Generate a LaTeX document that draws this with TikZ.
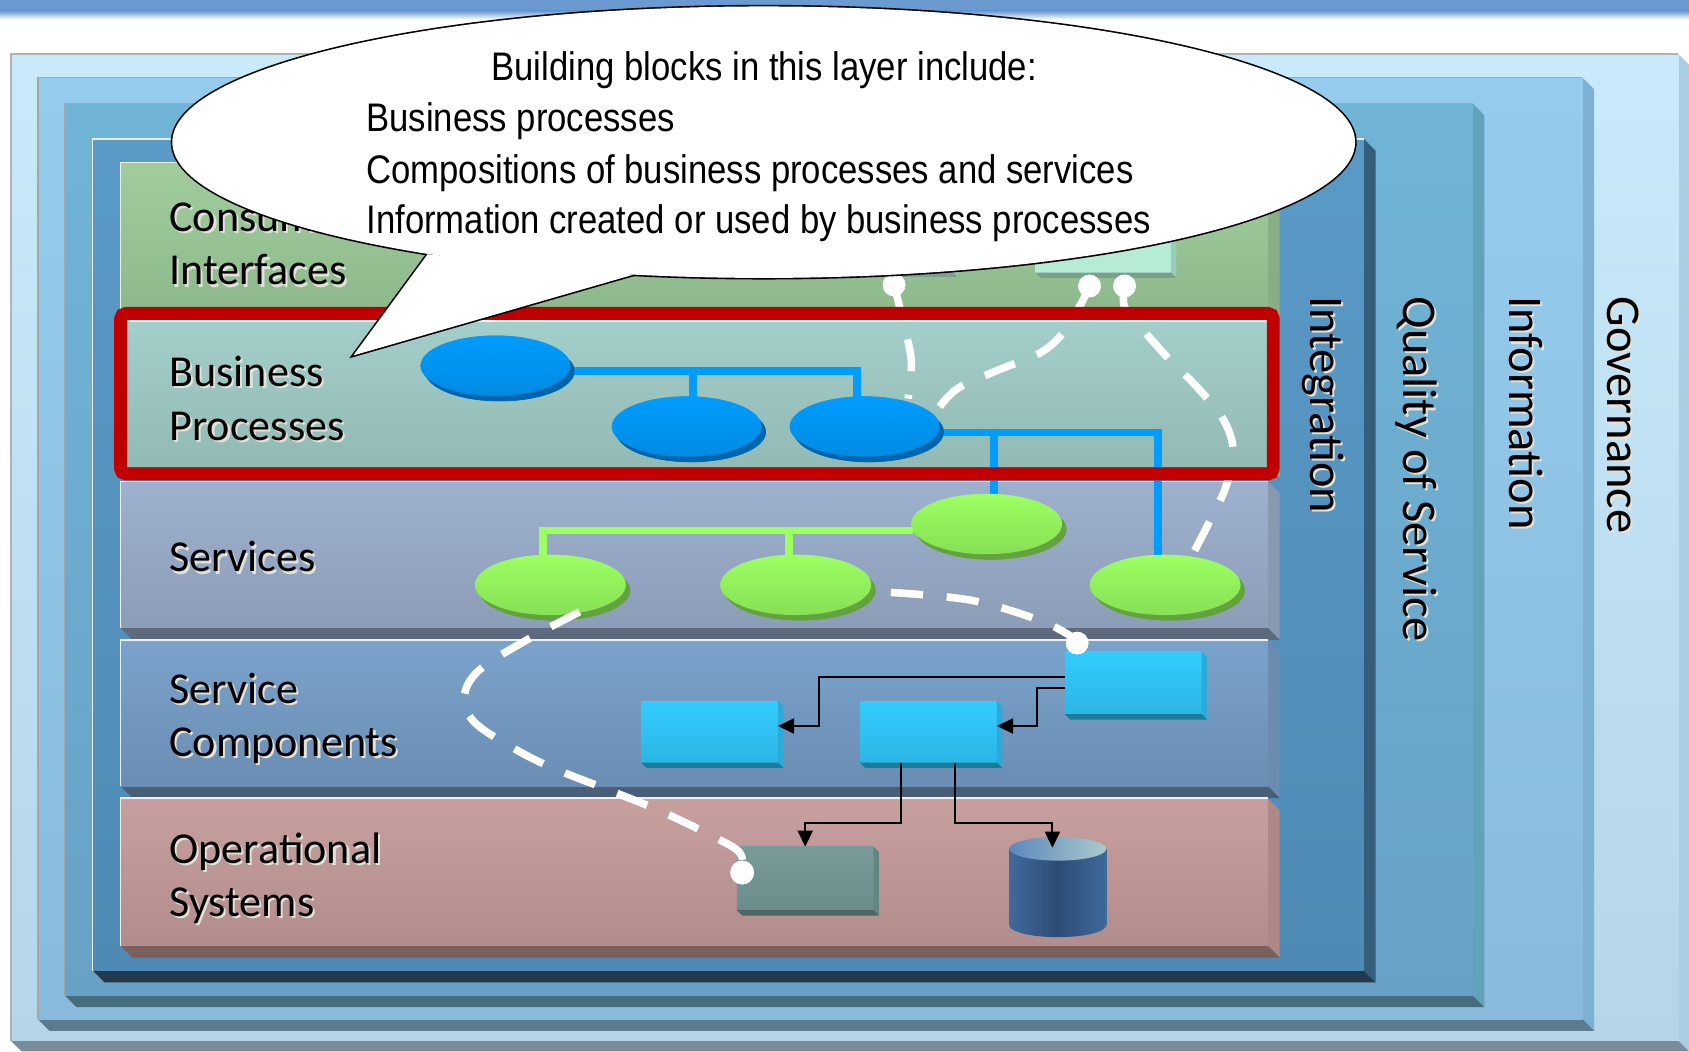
\documentclass[tikz,border=0pt]{standalone}
\usepackage{fontspec}
\setmainfont{Carlito}
\newfontfamily\narrowfont[FakeStretch=0.87]{Liberation Sans}
\usetikzlibrary{calc,shapes.geometric,arrows.meta,shadows}

\definecolor{barblue}{HTML}{6A9AD0}
\definecolor{govA}{HTML}{C8EAFB}\definecolor{govB}{HTML}{B5D5E8}\definecolor{govR}{HTML}{AACDE2}\definecolor{govS}{HTML}{7A8C99}
\definecolor{infA}{HTML}{95CCEE}\definecolor{infB}{HTML}{88BADB}\definecolor{infR}{HTML}{7EB0D3}\definecolor{infS}{HTML}{5B7B8F}
\definecolor{qosA}{HTML}{70B5D6}\definecolor{qosB}{HTML}{68A1C6}\definecolor{qosR}{HTML}{62A3B9}\definecolor{qosS}{HTML}{446E7E}
\definecolor{intA}{HTML}{5A9AC7}\definecolor{intB}{HTML}{4E8AB4}\definecolor{intR}{HTML}{345E7A}\definecolor{intS}{HTML}{233A4E}
\definecolor{ciA}{HTML}{A1CD9E}\definecolor{ciB}{HTML}{8EB98C}\definecolor{ciR}{HTML}{88AE86}\definecolor{ciS}{HTML}{6A8A68}
\definecolor{bpA}{HTML}{A3CECA}\definecolor{bpB}{HTML}{93BAB4}\definecolor{bpR}{HTML}{89ACA8}\definecolor{bpS}{HTML}{607E7A}
\definecolor{svA}{HTML}{9DB1CE}\definecolor{svB}{HTML}{8C9DB7}\definecolor{svR}{HTML}{8898B0}\definecolor{svS}{HTML}{5D6A7D}
\definecolor{scA}{HTML}{7AA3CB}\definecolor{scB}{HTML}{6B8DB3}\definecolor{scR}{HTML}{6B8CB0}\definecolor{scS}{HTML}{4A5E77}
\definecolor{osA}{HTML}{C7A09E}\definecolor{osB}{HTML}{B28D8D}\definecolor{osR}{HTML}{AE8787}\definecolor{osS}{HTML}{7A5F5E}
\definecolor{redframe}{HTML}{C00000}
\definecolor{beA}{HTML}{009CFF}\definecolor{beB}{HTML}{008BE2}\definecolor{beD}{HTML}{0065AA}
\definecolor{geA}{HTML}{9CFF62}\definecolor{geB}{HTML}{88E055}\definecolor{geD}{HTML}{62A23F}
\definecolor{cyA}{HTML}{33CCFF}\definecolor{cyB}{HTML}{2BB6E4}\definecolor{cyR}{HTML}{29AAD8}\definecolor{cyS}{HTML}{1D7A9A}
\definecolor{obA}{HTML}{799C9A}\definecolor{obB}{HTML}{6A8C8A}\definecolor{obR}{HTML}{648683}\definecolor{obS}{HTML}{4D6664}
\definecolor{cylE}{HTML}{3F6A9C}\definecolor{cylM}{HTML}{2D4C74}\definecolor{cylT}{HTML}{5C88BE}\definecolor{cylU}{HTML}{AACACB}
\definecolor{mintA}{HTML}{B6ECD6}\definecolor{mintB}{HTML}{A9DEC8}\definecolor{mintR}{HTML}{98CDB6}\definecolor{mintS}{HTML}{7CA08E}
\definecolor{lblshadow}{HTML}{E2E2DA}

\newcommand\myslab[9]{%
  \fill[#8] (#3,#2) -- ({#3+#5},{#2+#5}) -- ({#3+#5},{#4+#5}) -- (#3,#4) -- cycle;
  \fill[#9] (#1,#4) -- (#3,#4) -- ({#3+#5},{#4+#5}) -- ({#1+#5},{#4+#5}) -- cycle;
  \shade[top color=#6,bottom color=#7] (#1,#2) rectangle (#3,#4);
}
\newcommand\myextrude[4]{%
  \fill[#3] (#1.north east) -- ++(#2,#2) -- ($(#1.south east)+(#2,#2)$) -- (#1.south east) -- cycle;
  \fill[#4] (#1.south west) -- (#1.south east) -- ++(#2,#2) -- ($(#1.south west)+(#2,#2)$) -- cycle;
}
\newcommand\shlabel[4]{%
  \node[lbl, text=lblshadow] (#4s) at ({#1+2},{#2+2}) {#3};
  \node[lbl] (#4) at (#1,#2) {#3};
}
\newcommand\vlabel[4]{%
  \node[vlbl, text=lblshadow] (#4s) at ({#1+2},{#2+2}) {#3};
  \node[vlbl] (#4) at (#1,#2) {#3};
}

\begin{document}
\begin{tikzpicture}[x=1pt,y=-1pt,
  lbl/.style={anchor=base west, inner sep=0pt, font=\fontsize{41}{49}\selectfont},
  vlbl/.style={anchor=west, rotate=-90, inner sep=0pt, font=\fontsize{45}{54}\selectfont},
  bubtxt/.style={anchor=base west, inner sep=0pt, font=\narrowfont\fontsize{37}{44}\selectfont},
  bpell/.style={ellipse, inner sep=0pt, outer sep=0pt, minimum width=139pt, minimum height=56pt,
     top color=beA, bottom color=beB, general shadow={fill=beD, shadow xshift=4pt, shadow yshift=-5pt}},
  svell/.style={ellipse, inner sep=0pt, outer sep=0pt, minimum width=140pt, minimum height=56pt,
     top color=geA, bottom color=geB, general shadow={fill=geD, shadow xshift=4pt, shadow yshift=-5pt}},
  scbox/.style={rectangle, inner sep=0pt, outer sep=0pt, minimum width=127pt, minimum height=57pt,
     top color=cyA, bottom color=cyB},
  osbox/.style={rectangle, inner sep=0pt, outer sep=0pt, minimum width=127pt, minimum height=59pt,
     top color=obA, bottom color=obB},
  dot/.style={circle, fill=white, inner sep=0pt, minimum size=21pt},
  bpline/.style={draw=beA, line width=7pt},
  svline/.style={draw=geA, line width=7pt},
  conn/.style={draw=black, line width=2pt, -{Triangle[length=15pt,width=14pt]}},
  dsh/.style={draw=white, line width=7pt, dash pattern=on 30pt off 22pt},
  edgehi/.style={line width=1.5pt},
]
\useasboundingbox (0,0) rectangle (1568,976);
\fill[white] (0,0) rectangle (1568,976);
% top bar
\fill[barblue] (0,0) rectangle (1568,10);
\shade[top color=barblue, bottom color=white] (0,10) rectangle (1568,18);

% frames
\myslab{10}{50}{1558}{966}{10}{govA}{govB}{govR}{govS}
\draw[edgehi, draw=gray!60] (10,966) -- (10,50) -- (1558,50);
\myslab{35}{72}{1469}{946}{11}{infA}{infB}{infR}{infS}
\draw[edgehi, draw=gray!70] (35,946) -- (35,72) -- (1469,72);
\myslab{60}{96}{1367}{924}{11}{qosA}{qosB}{qosR}{qosS}
\draw[edgehi, draw=gray!70] (60,924) -- (60,96) -- (1367,96);
\myslab{86}{129}{1266}{901}{11}{intA}{intB}{intR}{intS}
\draw[edgehi, draw=white!85!gray] (86,901) -- (86,129) -- (1266,129);

% layers
\myslab{112}{151}{1177}{287}{11}{ciA}{ciB}{ciR}{ciS}
\myslab{112}{298}{1177}{433}{11}{bpA}{bpB}{bpR}{bpS}
\myslab{112}{447}{1177}{583}{11}{svA}{svB}{svR}{svS}
\myslab{112}{594}{1177}{730}{11}{scA}{scB}{scR}{scS}
\myslab{112}{741}{1177}{878}{11}{osA}{osB}{osR}{osS}
\foreach \ya/\yb in {151/287,298/433,447/583,594/730,741/878}
  \draw[edgehi, draw=white!88!gray] (112,\yb) -- (112,\ya) -- (1177,\ya);

% layer labels
\shlabel{157}{215}{Consumer}{lci1}
\shlabel{157}{264.5}{Interfaces}{lci2}
\shlabel{157}{359}{Business}{lbp1}
\shlabel{157}{408.5}{Processes}{lbp2}
\shlabel{157}{531}{Services}{lsv}
\shlabel{157}{653}{Service}{lsc1}
\shlabel{157}{702.5}{Components}{lsc2}
\shlabel{157}{801.5}{Operational}{los1}
\shlabel{157}{851}{Systems}{los2}

% consumer interface boxes (mostly hidden)
\node[rectangle, inner sep=0pt, outer sep=0pt, minimum width=121pt, minimum height=57pt, top color=mintB, bottom color=mintB!90!black] (ci1) at (823.5,223.5) {};
\myextrude{ci1}{5}{mintR}{mintS}
\node[rectangle, inner sep=0pt, outer sep=0pt, minimum width=126pt, minimum height=58pt, top color=mintA, bottom color=mintA] (ci2) at (1024,224) {};
\myextrude{ci2}{5}{mintR}{mintS}

% nodes: business process ellipses and services
\node[bpell] (e1) at (460,339.5) {};
\node[bpell] (e2) at (637.5,396) {};
\node[bpell] (e3) at (802.7,396) {};
\node[svell] (s1) at (511,543) {};
\node[svell] (s2) at (738.8,543) {};
\node[svell] (s3) at (916,486.5) {};
\node[svell] (s4) at (1081.7,543) {};

% blue and green connectors
\coordinate (bj1) at ($(e1.east)+(-2,5)$);
\coordinate (e3top) at ($(e3.north)+(-7,2)$);
\coordinate (e2top) at ($(e2.north)+(6,2)$);
\coordinate (bj2) at ($(e3.east)+(-2,5.5)$);
\coordinate (s4top) at ($(s4.north)+(-6.7,2)$);
\coordinate (s3top) at ($(s3.north)+(7,2)$);
\coordinate (gj) at ($(s3.west)+(2,6)$);
\coordinate (s1top) at ($(s1.north)+(-7,2)$);
\coordinate (s2top) at ($(s2.north)+(-6.3,2)$);
\draw[bpline] (bj1) -| (e3top);
\draw[bpline] (e2top) -- (e2top |- bj1);
\draw[bpline] (bj2) -| (s4top);
\draw[bpline] (s3top) -- (s3top |- bj2);
\draw[svline] (gj) -| (s1top);
\draw[svline] (s2top) -- (s2top |- gj);
% redraw ellipses above their connectors
\node[bpell] at (e1) {};
\node[bpell] at (e2) {};
\node[bpell] at (e3) {};
\node[svell] at (s1) {};
\node[svell] at (s2) {};
\node[svell] at (s3) {};
\node[svell] at (s4) {};

% service components
\node[scbox] (c1) at (658.75,679.5) {};
\myextrude{c1}{5}{cyR}{cyS}
\node[scbox] (c2) at (862,679.5) {};
\myextrude{c2}{5}{cyR}{cyS}
\node[scbox, minimum height=58pt] (c3) at (1052,634) {};
\myextrude{c3}{5}{cyR}{cyS}

% operational systems
\node[osbox] (os) at (747.5,815.5) {};
\myextrude{os}{5}{obR}{obS}
\shade[left color=cylE, right color=cylE, middle color=cylM] (937,788) rectangle (1027,859);
\shade[left color=cylE, right color=cylE, middle color=cylM] (982,859) ellipse [x radius=45, y radius=11];
\shade[left color=cylT, right color=cylU] (982,788) ellipse [x radius=45, y radius=11];
\coordinate (cyltop) at (977,787);

% black connectors
\coordinate (a1s) at ($(c3.west)+(0,-5.5)$);
\coordinate (a1e) at ($(c1.east)+(0,-5.5)$);
\draw[conn] (a1s) -| ($(a1e)+(38,0)$) -- (a1e);
\coordinate (a2s) at ($(c3.west)+(0,5)$);
\coordinate (a2e) at ($(c2.east)+(0,-5.5)$);
\draw[conn] (a2s) -| ($(a2e)+(37.5,0)$) -- (a2e);
\coordinate (a3s) at ($(c2.south)+(-25.5,0)$);
\draw[conn] (a3s) -- ++(0,56) -| (os.north);
\coordinate (a4s) at ($(c2.south)+(24.5,0)$);
\draw[conn] (a4s) -- ++(0,56) -| (cyltop);

% dots
\node[dot] (d1) at (830,264.5) {};
\node[dot] (d2) at (1011.5,265.5) {};
\node[dot] (d3) at (1044,265.5) {};
\node[dot] (d4) at (1000,597) {};
\node[dot, minimum size=22pt] (d5) at (689,810) {};

% dashed links
\draw[dsh] plot[smooth, tension=0.6] coordinates {(d1) (838,297) (846,335) (843,370)};
\draw[dsh] plot[smooth, tension=0.6] coordinates {(d2) (1003,283) (987,309) (965,328) (928,343) (890,360) (872,378)};
\draw[dsh] plot[smooth, tension=0.6] coordinates {(d3) (1044,285) (1060,305) (1085,333) (1111,359) (1136,390) (1145,420) (1138,452) (1124,482) (1107,515)};
\draw[dsh] plot[smooth, tension=0.6] coordinates {(827,550) (900,557) (960,574) (990,588) (d4)};
\draw[dsh] plot[smooth, tension=0.6] coordinates {(538,568) (491,593) (445,622) (431,647) (440,670) (474,693) (511,712) (564,733) (611,752) (663,777) (687,792) (d5)};
\node[dot] at (d1) {};
\node[dot] at (d2) {};
\node[dot] at (d3) {};
\node[dot] at (d4) {};
\node[dot, minimum size=22pt] at (d5) {};

% red highlight frame
\draw[redframe, line width=12pt, rounded corners=5pt] (112,291) rectangle (1182,440);

% callout bubble
\draw[line width=3pt, fill=white] (709,132) ellipse [x radius=549, y radius=126];
\draw[line width=3pt, fill=white, line join=miter, miter limit=20] (397,236) -- (328,330) -- (588,255) -- cycle;
\fill[white] (709,132) ellipse [x radius=549, y radius=126];
\fill[white] (397,236) -- (328,330) -- (588,255) -- cycle;
\node[bubtxt, anchor=base] (bt0) at (709.5,74.5) {Building blocks in this layer include:};
\node[bubtxt] (bt1) at (340,122) {Business processes};
\node[bubtxt] (bt2) at (340,170) {Compositions of business processes and services};
\node[bubtxt] (bt3) at (340,217) {Information created or used by business processes};

% vertical labels
\vlabel{1228}{275}{Integration}{vint}
\vlabel{1315}{275}{Quality of Service}{vqos}
\vlabel{1417}{275}{Information}{vinf}
\vlabel{1507}{275}{Governance}{vgov}
\end{tikzpicture}
\end{document}
